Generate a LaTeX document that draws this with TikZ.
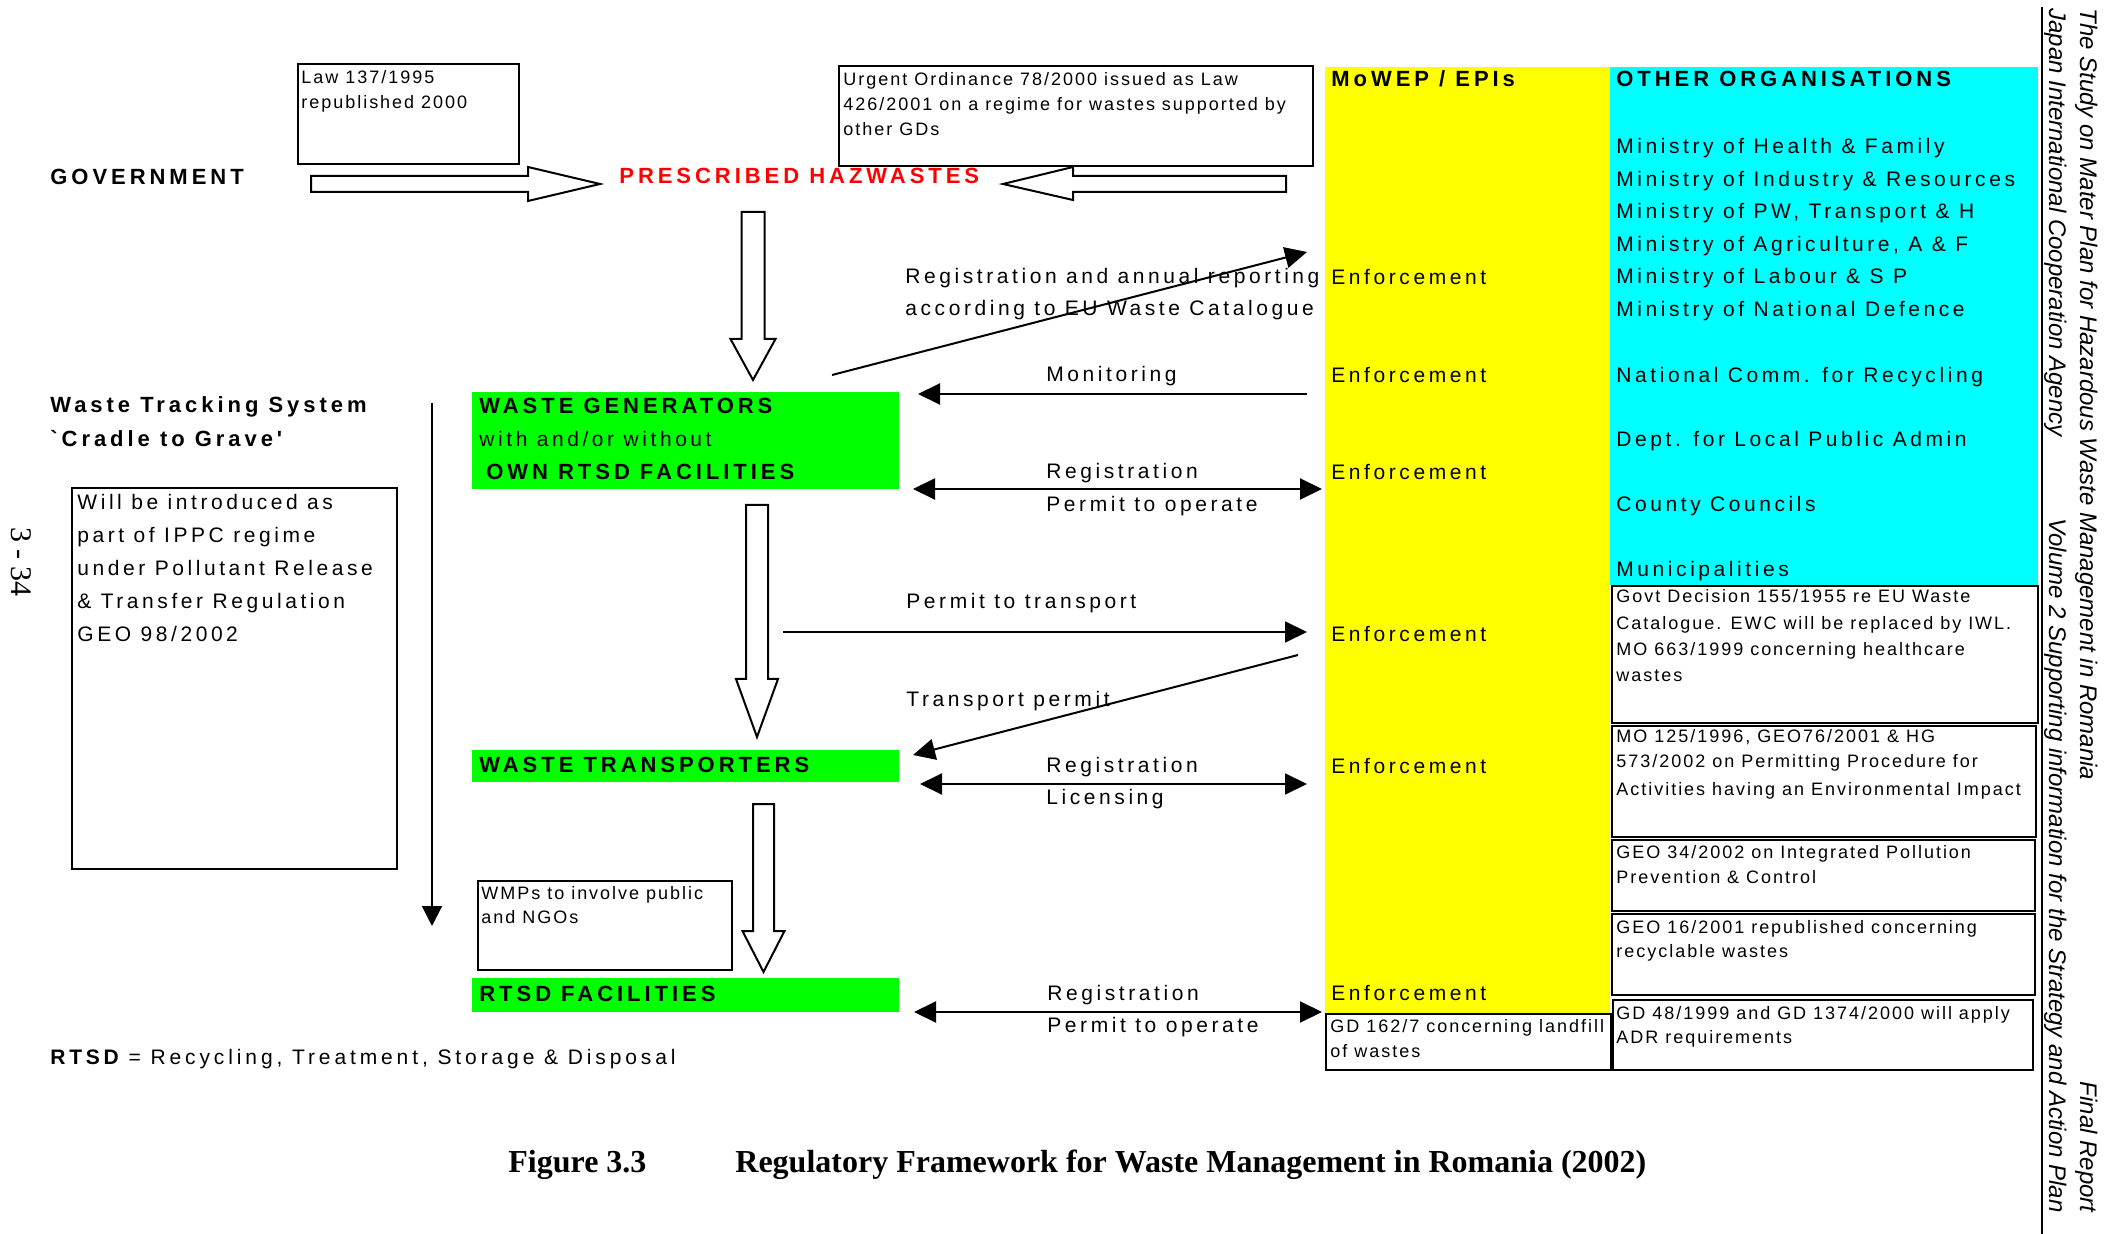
\documentclass[tikz,border=0pt]{standalone}
\usepackage{fontspec}
\setmainfont{Liberation Sans}
\newfontfamily\spaced[LetterSpace=17]{Liberation Sans}
\newfontfamily\spacedwide[LetterSpace=18.5]{Liberation Sans}
\newfontfamily\spacedhead[LetterSpace=18]{Liberation Sans}
\newfontfamily\spacedsmall[LetterSpace=11]{Liberation Sans}
\newfontfamily\captionserif{Liberation Serif}
\usetikzlibrary{arrows.meta}
\definecolor{brightgreen}{HTML}{00FF00}
\definecolor{colyellow}{HTML}{FFFF00}
\definecolor{colcyan}{HTML}{00FFFF}
\definecolor{hazred}{HTML}{FF0000}

\begin{document}
\begin{tikzpicture}[x=0.5pt,y=-0.5pt,
  lbl/.style={inner sep=0pt, anchor=base west, font=\spaced\fontsize{10.5}{12}\selectfont},
  head/.style={inner sep=0pt, anchor=base west, font=\spacedhead\bfseries\fontsize{11}{13}\selectfont},
  note/.style={inner sep=0pt, anchor=base west, font=\spacedsmall\fontsize{9}{10}\selectfont},
  side/.style={inner sep=0pt, rotate=-90, font=\itshape\fontsize{12}{14}\selectfont},
  frame/.style={draw, line width=1pt},
  greenbox/.style={fill=brightgreen},
  blockarrow/.style={draw, line width=1pt, fill=white, line join=miter},
  link/.style={line width=1pt, -{Triangle[length=11pt,width=10.5pt]}},
  twoway/.style={line width=1pt, {Triangle[length=11pt,width=10.5pt]}-{Triangle[length=11pt,width=10.5pt]}}
]
\useasboundingbox (0,0) rectangle (2125,1234);

% ---------- authority columns ----------
\fill[colyellow] (1325,67) rectangle (1610,1014);
\fill[colcyan] (1610,67) rectangle (2038,585);

% ---------- government row ----------
\node[head] (gov) at (50,185) {GOVERNMENT};
\draw[frame] (298,64) rectangle (519,164);
\node[note] (law1) at (301,84) {Law 137/1995};
\node[note] (law2) at (301,109) {republished 2000};
\draw[blockarrow] (311,176) -- (528,176) -- (528,167) -- (600,184) -- (528,201) -- (528,192) -- (311,192) -- cycle;
\node[head, text=hazred] (haz) at (619,184) {PRESCRIBED HAZWASTES};
\draw[frame] (839,66) rectangle (1313,166);
\node[note] (uo1) at (843,86) {Urgent Ordinance 78/2000 issued as Law};
\node[note] (uo2) at (843,111) {426/2001 on a regime for wastes supported by};
\node[note] (uo3) at (843,136) {other GDs};
\draw[blockarrow] (1286,176) -- (1073,176) -- (1073,167) -- (1003,184) -- (1073,200) -- (1073,192) -- (1286,192) -- cycle;

% ---------- chain of actors ----------
\draw[blockarrow] (741.5,212) -- (764.5,212) -- (764.5,339) -- (775.5,339) -- (753,380) -- (730.5,339) -- (741.5,339) -- cycle;

\fill[greenbox] (472,392) rectangle (899,489);
\node[head] (wg1) at (479,414) {WASTE GENERATORS};
\node[lbl] (wg2) at (479,447) {with and/or without};
\node[head] (wg3) at (486,480) {OWN RTSD FACILITIES};

\draw[blockarrow] (746,505) -- (768,505) -- (768,679) -- (778,679) -- (757,737) -- (736,679) -- (746,679) -- cycle;

\fill[greenbox] (472,750) rectangle (899,782);
\node[head] (wt) at (479,772) {WASTE TRANSPORTERS};

\draw[blockarrow] (753,804) -- (774,804) -- (774,931) -- (784.5,931) -- (763.5,972) -- (742.5,931) -- (753,931) -- cycle;

\draw[frame] (478,881) rectangle (732,970);
\node[note] (wmp1) at (481,899) {WMPs to involve public};
\node[note] (wmp2) at (481,923) {and NGOs};

\fill[greenbox] (472,978) rectangle (899,1012);
\node[head] (rf) at (479,1001) {RTSD FACILITIES};

% ---------- waste tracking ----------
\node[head] (wts1) at (50,413) {Waste Tracking System};
\node[head] (wts2) at (50,447) {`Cradle to Grave'};
\coordinate (trackTop) at (432,403);
\coordinate (trackEnd) at (432,926);
\draw[line width=1pt, -{Triangle[length=10pt,width=10pt]}] (trackTop) -- (trackEnd);

\draw[frame] (72,488) rectangle (397,869);
\node[lbl] (wb1) at (77,510) {Will be introduced as};
\node[lbl] (wb2) at (77,543) {part of IPPC regime};
\node[lbl] (wb3) at (77,576) {under Pollutant Release};
\node[lbl] (wb4) at (77,609) {\& Transfer Regulation};
\node[lbl] (wb5) at (77,642) {GEO 98/2002};

\node[rotate=-90, inner sep=0pt, font=\captionserif\fontsize{15}{16}\selectfont] (page) at (21,562) {3 - 34};

% ---------- flows to and from the inspectorates ----------
\coordinate (repFrom) at (832,375);
\coordinate (repTo) at (1307,252);
\draw[link] (repFrom) -- (repTo);
\node[lbl] (rep1) at (905,284) {Registration and annual reporting};
\node[lbl] (rep2) at (905,316) {according to EU Waste Catalogue};

\coordinate (monFrom) at (1307,394);
\coordinate (monTo) at (918,394);
\draw[link] (monFrom) -- (monTo);
\node[lbl] (mon) at (1046,382) {Monitoring};

\coordinate (genL) at (913,489);
\coordinate (genR) at (1322,489);
\draw[twoway] (genL) -- (genR);
\node[lbl] (genA) at (1046,479) {Registration};
\node[lbl] (genB) at (1046,512) {Permit to operate};

\coordinate (ptFrom) at (783,632);
\coordinate (ptTo) at (1307,632);
\draw[link] (ptFrom) -- (ptTo);
\node[lbl] (pt) at (906,609) {Permit to transport};

\coordinate (tpFrom) at (1298,655);
\coordinate (tpTo) at (913,755);
\draw[link] (tpFrom) -- (tpTo);
\node[lbl] (tp) at (906,707) {Transport permit};

\coordinate (trL) at (920,784);
\coordinate (trR) at (1307,784);
\draw[twoway] (trL) -- (trR);
\node[lbl] (trA) at (1046,772) {Registration};
\node[lbl] (trB) at (1046,805) {Licensing};

\coordinate (rfL) at (914,1012);
\coordinate (rfR) at (1322,1012);
\draw[twoway] (rfL) -- (rfR);
\node[lbl] (rfA) at (1047,1000) {Registration};
\node[lbl] (rfB) at (1047,1032) {Permit to operate};

% ---------- MoWEP / EPIs column ----------
\node[head] (mowep) at (1331,87) {MoWEP / EPIs};
\foreach \yy [count=\i] in {285,383,480,642,773,1000}
  \node[lbl] (enf\i) at (1331,\yy) {Enforcement};
\draw[frame] (1326,1014) rectangle (1611,1070);
\node[note] (gd1) at (1330,1032) {GD 162/7 concerning landfill};
\node[note] (gd2) at (1330,1057) {of wastes};

% ---------- other organisations column ----------
\node[head] (other) at (1616,87) {OTHER ORGANISATIONS};
\node[lbl] (org1) at (1616,154) {Ministry of Health \& Family};
\node[lbl] (org2) at (1616,186.5) {Ministry of Industry \& Resources};
\node[lbl] (org3) at (1616,219) {Ministry of PW, Transport \& H};
\node[lbl] (org4) at (1616,251.5) {Ministry of Agriculture, A \& F};
\node[lbl] (org5) at (1616,284) {Ministry of Labour \& S P};
\node[lbl] (org6) at (1616,316.5) {Ministry of National Defence};
\node[lbl] (org7) at (1616,383) {National Comm. for Recycling};
\node[lbl] (org8) at (1616,447) {Dept. for Local Public Admin};
\node[lbl] (org9) at (1616,512) {County Councils};
\node[lbl] (org10) at (1616,577) {Municipalities};

\draw[frame] (1612,586) rectangle (2038,723);
\node[note] (a1) at (1616,603) {Govt Decision 155/1955 re EU Waste};
\node[note] (a2) at (1616,630) {Catalogue. EWC will be replaced by IWL.};
\node[note] (a3) at (1616,656) {MO 663/1999 concerning healthcare};
\node[note] (a4) at (1616,682) {wastes};
\draw[frame] (1612,726) rectangle (2036,837);
\node[note] (b1) at (1616,742) {MO 125/1996, GEO76/2001 \& HG};
\node[note] (b2) at (1616,768) {573/2002 on Permitting Procedure for};
\node[note] (b3) at (1616,795) {Activities having an Environmental Impact};
\draw[frame] (1612,840) rectangle (2035,911);
\node[note] (c1) at (1616,858) {GEO 34/2002 on Integrated Pollution};
\node[note] (c2) at (1616,883) {Prevention \& Control};
\draw[frame] (1612,914) rectangle (2035,995);
\node[note] (d1) at (1616,933) {GEO 16/2001 republished concerning};
\node[note] (d2) at (1616,957) {recyclable wastes};
\draw[frame] (1613,1000) rectangle (2033,1070);
\node[note] (e1) at (1616,1019) {GD 48/1999 and GD 1374/2000 will apply};
\node[note] (e2) at (1616,1043) {ADR requirements};

% ---------- legend and caption ----------
\node[lbl, font=\spacedwide\fontsize{10.5}{12}\selectfont] (legend) at (50,1064) {{\spacedhead\bfseries RTSD} = Recycling, Treatment, Storage \& Disposal};
\node[inner sep=0pt, anchor=base west, font=\captionserif\bfseries\fontsize{16}{18}\selectfont] (fig) at (508,1172) {Figure 3.3};
\node[inner sep=0pt, anchor=base west, font=\captionserif\bfseries\fontsize{16}{18}\selectfont] (title) at (735,1172) {Regulatory Framework for Waste Management in Romania (2002)};

% ---------- running header on the page edge ----------
\coordinate (ruleTop) at (2042,7);
\coordinate (ruleBot) at (2042,1234);
\draw[line width=1pt] (ruleTop) -- (ruleBot);
\node[side, anchor=base west] (hdr1) at (2080,8) {The Study on Mater Plan for Hazardous Waste Management in Romania};
\node[side, anchor=base east] (hdr2) at (2080,1213) {Final Report};
\node[side, anchor=base west] (hdr3) at (2049,8) {Japan International Cooperation Agency};
\node[side, anchor=base east] (hdr4) at (2049,1213) {Volume 2 Supporting information for the Strategy and Action Plan};
\end{tikzpicture}
\end{document}
